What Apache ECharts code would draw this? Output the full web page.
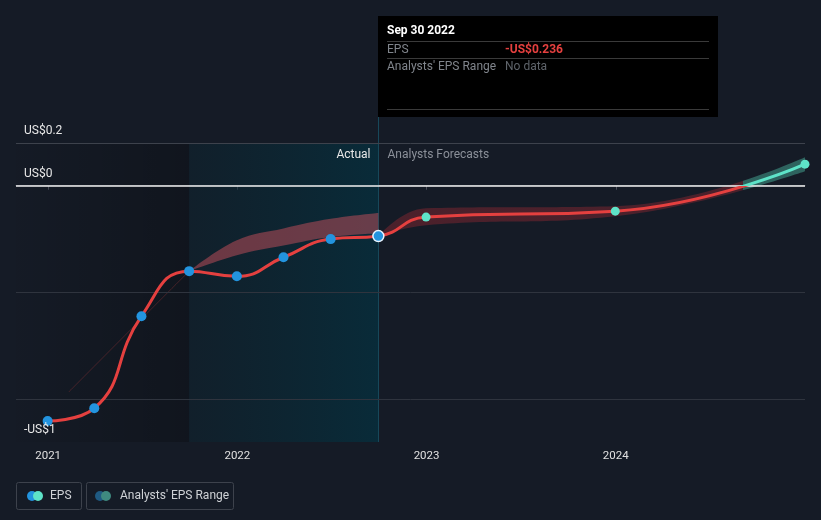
<!DOCTYPE html>
<html><head><meta charset="utf-8">
<script src="https://cdn.jsdelivr.net/npm/echarts@6/dist/echarts.min.js"></script>
<style>html,body{margin:0;padding:0;background:#151b26;}#c{width:821px;height:520px;}</style>
</head><body><div id="c"></div>
<script>
// ---- data ----
const actualDates = ['2020-12-31','2021-03-31','2021-06-30','2021-09-30','2021-12-31','2022-03-31','2022-06-30','2022-09-30'];
const actualEPS   = [-1.102, -1.042, -0.611, -0.400, -0.424, -0.335, -0.250, -0.236];
const forecastDates = ['2022-09-30','2022-12-31','2023-12-31','2024-12-31'];
const forecastEPS   = [-0.236, -0.147, -0.119, 0.101];
const fcLow  = [-0.236, -0.185, -0.143, 0.068];
const fcHigh = [-0.236, -0.105, -0.096, 0.133];
const pastBandDates = ['2021-09-30','2021-12-31','2022-03-31','2022-06-30','2022-09-30'];
const pastLow  = [-0.400, -0.325, -0.280, -0.240, -0.222];
const pastHigh = [-0.400, -0.255, -0.200, -0.155, -0.128];
const faintDates = ['2021-02-10','2021-06-15','2021-09-30'];
const faintVals  = [-0.965, -0.66, -0.400];
const yLabels = [{v:0.2,t:'US$0.2'},{v:0,t:'US$0'},{v:-1.2,t:'-US$1'}];
const gridVals = [0.2, -0.5, -1.0];
const crossDate = '2024-09-02';
const hoverDate = '2022-09-30';

const ts = d => new Date(d + 'T00:00:00Z').getTime();
const pair = (ds, vs) => ds.map((d,i)=>[ts(d), vs[i]]);
const RED = '#e5403f', TEAL = '#5ee3c8', BLUE = '#2394df';

const chart = echarts.init(document.getElementById('c'), null, {renderer:'canvas'});
const allLine = pair(actualDates, actualEPS).concat(pair(forecastDates.slice(1), forecastEPS.slice(1)));

const option = {
  backgroundColor: '#151b26',
  animation: false,
  textStyle: {fontFamily: 'Roboto'},
  grid: {left:16, right:16, top:143, bottom:78},
  xAxis: {
    type:'time', min: ts('2020-10-31'), max: ts('2024-12-31'),
    minInterval: 365*24*3600*1000, maxInterval: 366*24*3600*1000,
    axisLine:{lineStyle:{color:'#4a4f5a', width:1}},
    axisTick:{show:true, length:4, lineStyle:{color:'#4a4f5a'}},
    axisLabel:{color:'#e0e0e0', fontSize:11.5, margin:8, formatter: v => String(new Date(v).getUTCFullYear()), showMinLabel:false, showMaxLabel:false},
    splitLine:{show:false}
  },
  yAxis: {type:'value', min:-1.2, max:0.2, show:false, splitLine:{show:false}},
  series: [
    { type:'line', data:[], silent:true,
      markArea:{silent:true, data:[
        [{xAxis: ts('2020-10-31'), yAxis:0.2, itemStyle:{color:new echarts.graphic.LinearGradient(0,0,1,0,[{offset:0,color:'rgba(0,0,0,0.02)'},{offset:1,color:'rgba(0,0,0,0.22)'}])}},{xAxis: ts('2021-09-30'), yAxis:-1.2}],
        [{xAxis: ts('2021-09-30'), yAxis:0.2, itemStyle:{color:new echarts.graphic.LinearGradient(0,0,1,0,[{offset:0,color:'rgba(10,40,52,0.35)'},{offset:1,color:'rgba(8,44,58,0.95)'}])}},{xAxis: ts('2022-09-30'), yAxis:-1.2}]
      ]},
      markLine:{silent:true, symbol:'none', label:{show:false},
        data: gridVals.map(v=>({yAxis:v, lineStyle:{color: v===0.2?'#3d424c':'#2f343e', width:1, type:'solid'}}))
          .concat([{yAxis:0, lineStyle:{color:'#f0f0f0', width:1.5, type:'solid'}}])}
    },
    // past band
    { type:'line', stack:'past', stackStrategy:'all', data: pair(pastBandDates, pastLow), showSymbol:false, smooth:0.4, lineStyle:{width:0}, silent:true },
    { type:'line', stack:'past', stackStrategy:'all', data: pair(pastBandDates, pastHigh.map((h,i)=>h-pastLow[i])), showSymbol:false, smooth:0.4, lineStyle:{width:0}, areaStyle:{color:'rgba(200,80,92,0.5)', opacity:1}, silent:true },
    // forecast band
    { type:'line', stack:'fc', stackStrategy:'all', data: pair(forecastDates, fcLow), showSymbol:false, smooth:0.45, lineStyle:{width:0}, silent:true },
    { type:'line', stack:'fc', stackStrategy:'all', data: pair(forecastDates, fcHigh.map((h,i)=>h-fcLow[i])), showSymbol:false, smooth:0.45, lineStyle:{width:0}, areaStyle:{color:'rgba(150,40,50,0.42)', opacity:1}, silent:true },
    // EPS line
    { type:'line', data: allLine, showSymbol:false, smooth:0.5, lineStyle:{width:3, color:RED}, silent:true, z:5 },
    // faint line
    { type:'line', data: pair(faintDates, faintVals), showSymbol:false, smooth:0.3, lineStyle:{width:1, color:'rgba(190,60,60,0.3)'}, silent:true, z:3 },
    // actual dots
    { type:'scatter', data: pair(actualDates.slice(0,-1), actualEPS.slice(0,-1)), symbolSize:10, itemStyle:{color:BLUE, opacity:1}, z:6, silent:true },
    { type:'scatter', data: pair(actualDates.slice(-1), actualEPS.slice(-1)), symbolSize:11, itemStyle:{color:BLUE, borderColor:'#e8f4ff', borderWidth:1.5, opacity:1}, z:7, silent:true },
    // forecast dots
    { type:'scatter', data: pair(forecastDates.slice(1), forecastEPS.slice(1)), symbolSize:9, itemStyle:{color:TEAL, opacity:1}, z:6, silent:true }
  ]
};
chart.setOption(option);

const px = (d,v) => chart.convertToPixel({gridIndex:0}, [ts(d), v]);
const yPx = v => chart.convertToPixel({yAxisIndex:0}, v);
const zeroY = yPx(0);
const crossX = px(crossDate, 0)[0];
// colour split at zero (line) and crossing date (band), through global gradients
chart.setOption({series:[{},{},{},{},
  {areaStyle:{color:new echarts.graphic.LinearGradient(crossX-1,0,crossX+1,0,[{offset:0,color:'rgba(150,40,50,0.42)'},{offset:0.5,color:'rgba(150,40,50,0.42)'},{offset:0.5,color:'rgba(70,170,150,0.5)'},{offset:1,color:'rgba(70,170,150,0.5)'}], true)}},
  {lineStyle:{color:new echarts.graphic.LinearGradient(0,zeroY-1,0,zeroY+1,[{offset:0,color:TEAL},{offset:0.5,color:TEAL},{offset:0.5,color:RED},{offset:1,color:RED}], true)}}
]});

const hx = Math.round(px(hoverDate, 0)[0]) + 0.5;
const gBottom = yPx(-1.2), gTop = yPx(0.2);
const g = [];
yLabels.forEach(l => g.push({type:'text', x:24, y: yPx(l.v)-12, z:20, style:{text:l.t, fill:'#e8e8e8', font:'12px Roboto', verticalAlign:'middle'}, silent:true}));
// hover line
g.push({type:'line', shape:{x1:hx, y1:117, x2:hx, y2:gBottom}, style:{stroke:'#17485a', lineWidth:1}, z:1, silent:true});
// Actual / Analysts Forecasts
g.push({type:'text', x:hx-8, y:gTop+12, z:20, style:{text:'Actual', fill:'#e8e8e8', font:'12px Roboto', align:'right', verticalAlign:'middle'}, silent:true});
g.push({type:'text', x:hx+9, y:gTop+12, z:20, style:{text:'Analysts Forecasts', fill:'#8b9099', font:'12px Roboto', align:'left', verticalAlign:'middle'}, silent:true});
// tooltip box
const bx = hx - 0.5;
g.push({type:'rect', shape:{x:bx, y:16, width:340, height:101}, style:{fill:'#000'}, z:10, silent:true});
[41,58,109].forEach(yy => g.push({type:'line', shape:{x1:bx+9, y1:yy+0.5, x2:bx+331, y2:yy+0.5}, style:{stroke:'#3a3a3a', lineWidth:1}, z:11, silent:true}));
g.push({type:'text', x:bx+9, y:31, style:{text:'Sep 30 2022', fill:'#ffffff', font:'bold 12px Roboto', verticalAlign:'middle'}, z:11, silent:true});
g.push({type:'text', x:bx+9, y:49.5, style:{text:'EPS', fill:'#80858c', font:'12px Roboto', verticalAlign:'middle'}, z:11, silent:true});
g.push({type:'text', x:bx+127, y:49.5, style:{text:'-US$0.236', fill:'#e5403f', font:'bold 12px Roboto', verticalAlign:'middle'}, z:11, silent:true});
g.push({type:'text', x:bx+9, y:66.5, style:{text:"Analysts' EPS Range", fill:'#80858c', font:'12px Roboto', verticalAlign:'middle'}, z:11, silent:true});
g.push({type:'text', x:bx+127, y:66.5, style:{text:'No data', fill:'#5f646b', font:'12px Roboto', verticalAlign:'middle'}, z:11, silent:true});
// legend
g.push({type:'rect', shape:{x:16.5, y:482.5, width:65, height:27, r:2}, style:{fill:'none', stroke:'#3d424c', lineWidth:1}, silent:true});
g.push({type:'circle', shape:{cx:32, cy:496, r:5}, style:{fill:BLUE}, silent:true});
g.push({type:'circle', shape:{cx:38, cy:496, r:5}, style:{fill:TEAL}, silent:true});
g.push({type:'text', x:50, y:496, style:{text:'EPS', fill:'#cfd2d6', font:'12px Roboto', verticalAlign:'middle'}, silent:true});
g.push({type:'rect', shape:{x:86.5, y:482.5, width:147, height:27, r:2}, style:{fill:'none', stroke:'#3d424c', lineWidth:1}, silent:true});
g.push({type:'circle', shape:{cx:100, cy:496, r:5}, style:{fill:'#1f5a82'}, silent:true});
g.push({type:'circle', shape:{cx:106, cy:496, r:5}, style:{fill:'#3f8a80'}, silent:true});
g.push({type:'text', x:120, y:496, style:{text:"Analysts' EPS Range", fill:'#cfd2d6', font:'12px Roboto', verticalAlign:'middle'}, silent:true});
chart.setOption({graphic: g});
</script></body></html>
